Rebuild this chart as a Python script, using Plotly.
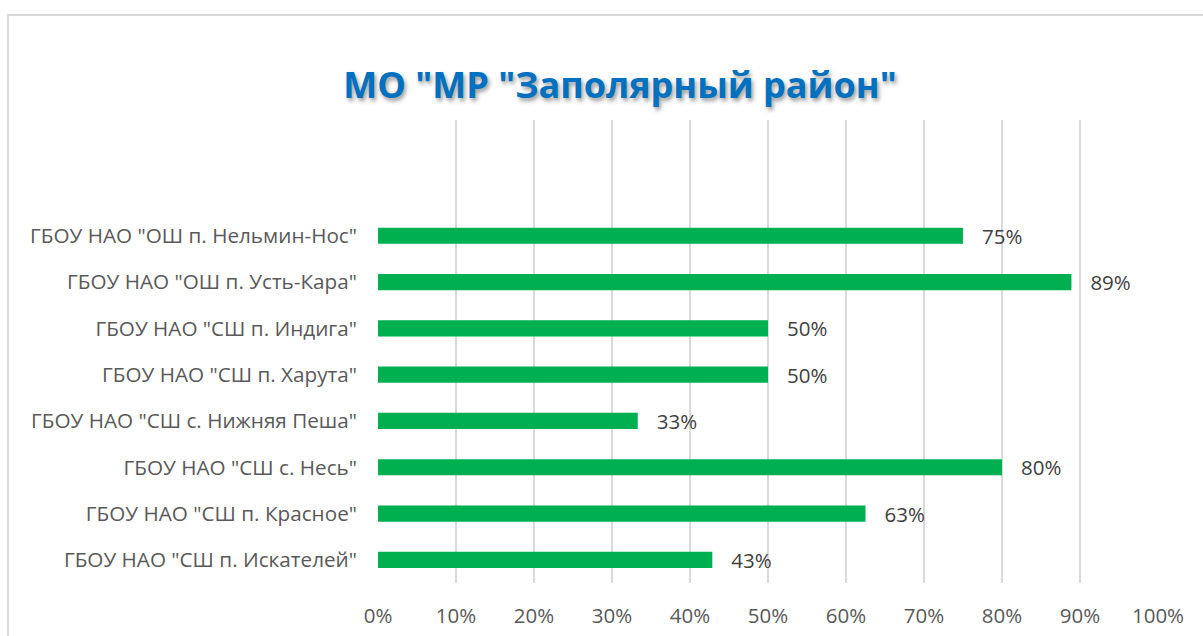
import plotly.graph_objects as go

title_text = 'МО "МР "Заполярный район"'
categories = [
    'ГБОУ НАО "ОШ п. Нельмин-Нос"',
    'ГБОУ НАО "ОШ п. Усть-Кара"',
    'ГБОУ НАО "СШ п. Индига"',
    'ГБОУ НАО "СШ п. Харута"',
    'ГБОУ НАО "СШ с. Нижняя Пеша"',
    'ГБОУ НАО "СШ с. Несь"',
    'ГБОУ НАО "СШ п. Красное"',
    'ГБОУ НАО "СШ п. Искателей"',
]
values = [0.75, 0.889, 0.5, 0.5, 0.333, 0.8, 0.625, 0.4286]
tick_vals = [0, 0.1, 0.2, 0.3, 0.4, 0.5, 0.6, 0.7, 0.8, 0.9, 1.0]
tick_text = ['0%', '10%', '20%', '30%', '40%', '50%', '60%', '70%', '80%', '90%', '100%']

labels = ['   ' + str(int(v * 100 + 0.5)) + '%' for v in values]

W, H = 1203, 636
L, R, T, B = 378, 45, 120, 53
pw, ph = W - L - R, H - T - B

fig = go.Figure()
fig.add_trace(go.Bar(
    x=values, y=categories, orientation='h',
    marker=dict(color='#00B050', line=dict(width=0)),
    width=0.35,
    text=labels, textposition='outside', cliponaxis=False,
    constraintext='none', textangle=0,
    textfont=dict(family='Open Sans', size=20.5, color='#404040'),
    hoverinfo='skip',
))

font = 'Open Sans'
fig.update_layout(
    width=W, height=H,
    margin=dict(l=L, r=R, t=T, b=B, autoexpand=False),
    paper_bgcolor='white', plot_bgcolor='white',
    showlegend=False,
    title=dict(
        text='<b>' + title_text + '</b>',
        x=620 / W, xref='container', xanchor='center',
        y=1 - 85 / H, yref='container', yanchor='middle',
        font=dict(family=font, size=36, color='#0070C0',
                  shadow='2px 3px 4px rgba(0,0,0,0.4)'),
    ),
    xaxis=dict(
        range=[0, 1.0], tickvals=tick_vals, ticktext=tick_text,
        showgrid=True, gridcolor='#D9D9D9', gridwidth=2,
        zeroline=False, showline=False, ticks='',
        tickfont=dict(family=font, size=20.5, color='#595959'),
        ticklabelstandoff=18, automargin=False,
        fixedrange=True,
    ),
    yaxis=dict(
        categoryorder='array', categoryarray=categories[::-1],
        range=[-0.5, 9.5],
        showgrid=False, zeroline=False, showline=False, ticks='',
        tickfont=dict(family=font, size=20.7, color='#595959'),
        ticklabelstandoff=20, automargin=False,
        fixedrange=True,
    ),
    shapes=[dict(
        type='rect', xref='paper', yref='paper',
        x0=(8 - L) / pw, x1=(W + 20 - L) / pw,
        y0=-(B + 20) / ph, y1=(H - 15 - B) / ph,
        line=dict(color='#D9D9D9', width=2), fillcolor='rgba(0,0,0,0)',
        layer='below',
    )],
)
fig.write_html('out.html', config={'displayModeBar': False},
               post_script="document.body.style.margin='0';document.body.style.overflow='hidden';")
